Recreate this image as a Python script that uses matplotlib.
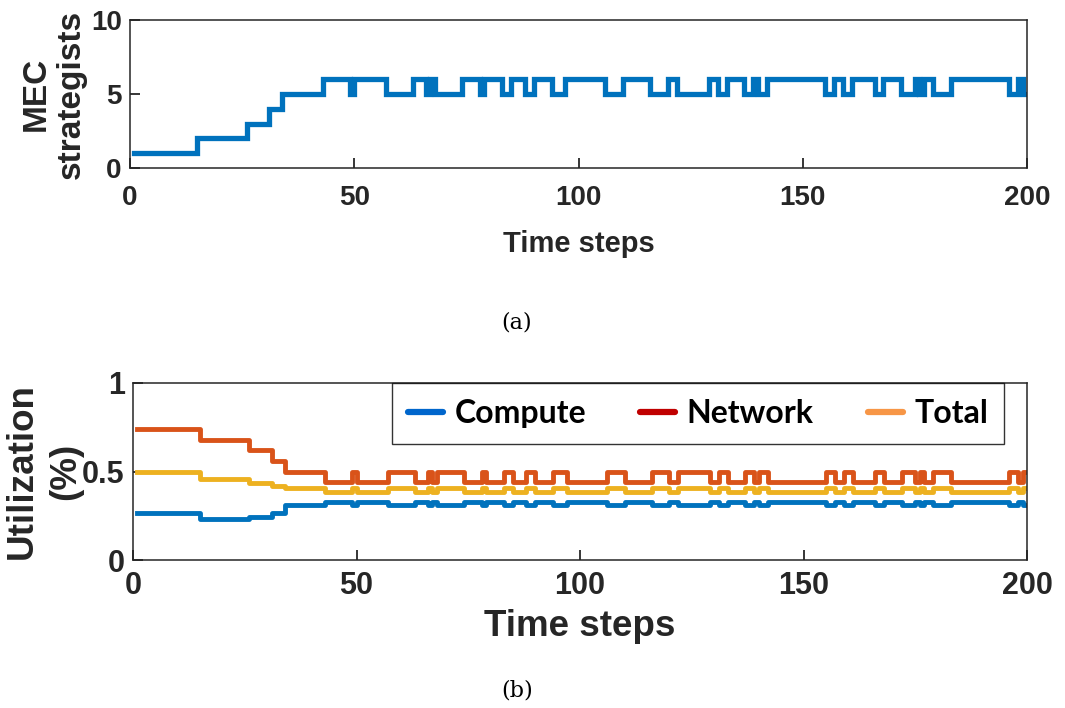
import numpy as np
import matplotlib
matplotlib.use("Agg")
import matplotlib.pyplot as plt
from matplotlib.lines import Line2D

# ---- data ----
# MEC strategist count: change points (time step at which value starts)
mec_steps = [1, 15, 26, 31, 34, 43, 49, 50, 57, 63, 66, 67, 68, 74, 78, 79, 83, 85,
             88, 90, 94, 97, 106, 110, 116, 120, 122, 129, 131, 133, 137, 139, 140,
             142, 155, 157, 159, 161, 166, 168, 172, 175, 176, 177, 179, 183, 196,
             198, 199]
mec_vals = [1, 2, 3, 4, 5, 6, 5, 6, 5, 6, 5, 6, 5, 6, 5, 6, 5, 6,
            5, 6, 5, 6, 5, 6, 5, 6, 5, 6, 5, 6, 5, 6, 5,
            6, 5, 6, 5, 6, 5, 6, 5, 6, 5, 6, 5, 6, 5,
            6, 5]
last_step = 200

# utilization for each MEC strategist count (1..6)
levels = [1, 2, 3, 4, 5, 6]
compute_by_level = [0.264, 0.233, 0.245, 0.267, 0.313, 0.327]
network_by_level = [0.738, 0.678, 0.621, 0.559, 0.499, 0.442]
total_by_level = [0.499, 0.458, 0.433, 0.418, 0.409, 0.384]

x_ticks = [0, 50, 100, 150, 200]
top_yticks = [0, 5, 10]
bot_yticks = [0, 0.5, 1]
bot_yticklabels = ["0", "0.5", "1"]
legend_names = ["Compute", "Network", "Total"]

# ---- style ----
c_compute, c_network, c_total = "#0072BD", "#D95319", "#EDB120"
leg_colors = ["#0066CC", "#C00000", "#F79646"]
plt.rcParams['font.family'] = ['Liberation Sans', 'DejaVu Sans']
plt.rcParams['font.weight'] = 'bold'

fig = plt.figure(figsize=(10.65, 7.08), dpi=100)
ax1 = fig.add_axes([130/1065, 1-168/708, 897/1065, 148/708])
ax2 = fig.add_axes([133/1065, 1-560/708, 894/1065, 177/708])

xs = np.array(mec_steps + [last_step])
ys = np.array(mec_vals + [mec_vals[-1]])

ax1.step(xs, ys, where='post', color=c_compute, lw=3.8, solid_joinstyle='miter')
ax1.set_xlim(0, 200)
ax1.set_ylim(0, 10)
ax1.set_xticks(x_ticks)
ax1.set_yticks(top_yticks)
ax1.tick_params(direction='in', length=7, width=1.1, labelsize=20, pad=6)
ax1.tick_params(axis='x', pad=12)
ax1.set_xlabel("Time steps", fontsize=21, fontweight='bold', labelpad=14, color='#262626')
ax1.set_ylabel("MEC\nstrategists", fontsize=24, fontweight='bold', linespacing=1.15,
               labelpad=3, color='#262626')

lut = {lv: i for i, lv in enumerate(levels)}
idx = [lut[v] for v in ys]
comp = np.array(compute_by_level)[idx]
netw = np.array(network_by_level)[idx]
tot = np.array(total_by_level)[idx]
ax2.step(xs, comp, where='post', color=c_compute, lw=3.5)
ax2.step(xs, netw, where='post', color=c_network, lw=3.5)
ax2.step(xs, tot, where='post', color=c_total, lw=3.5)
ax2.set_xlim(0, 200)
ax2.set_ylim(0, 1)
ax2.set_xticks(x_ticks)
ax2.set_yticks(bot_yticks)
ax2.set_yticklabels(bot_yticklabels)
ax2.tick_params(direction='in', length=7, width=1.1, labelsize=22, pad=6)
ax2.tick_params(axis='x', pad=8)
ax2.set_xlabel("Time steps", fontsize=26.5, fontweight='bold', labelpad=6, color='#262626')
ax2.set_ylabel("Utilization\n(%)", fontsize=26.5, fontweight='bold', linespacing=1.33,
               labelpad=-1, color='#262626')

for ax in (ax1, ax2):
    for sp in ax.spines.values():
        sp.set_linewidth(1.1)
        sp.set_color('#262626')
    for lab in ax.get_xticklabels() + ax.get_yticklabels():
        lab.set_fontweight('bold')
        lab.set_color('#262626')

handles = [Line2D([0], [0], color=c, lw=4.5, solid_capstyle='round') for c in leg_colors]
leg = ax2.legend(handles, legend_names, ncol=3, loc='upper left',
                 bbox_to_anchor=((392-133)/894, 1.0), frameon=True, fancybox=False,
                 handlelength=1.1, handletextpad=0.35, columnspacing=1.7,
                 borderpad=0.5, borderaxespad=0.0,
                 prop={'family': 'Lato', 'weight': 'bold', 'size': 23})
leg.get_frame().set_edgecolor('black')
leg.get_frame().set_linewidth(1.0)

fig.text(517/1065, 1-322/708, "(a)", ha='center', va='center', fontsize=16,
         family='DejaVu Serif', fontweight='normal')
fig.text(517/1065, 1-690/708, "(b)", ha='center', va='center', fontsize=16,
         family='DejaVu Serif', fontweight='normal')

fig.savefig("out.png", dpi=100)
